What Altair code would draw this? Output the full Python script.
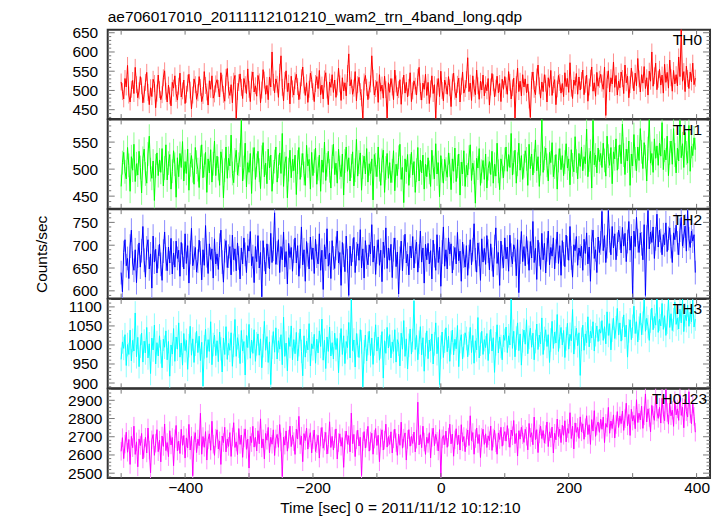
import math
import altair as alt
import pandas as pd

# ---------------- data ----------------
TIMES = list(range(-500, 400, 2))  # bin start times [sec], 2 s bins

TH0 = [
    522, 497, 478, 531, 509, 565, 488, 470, 503, 526, 492, 560, 515, 481, 499,
    536, 512, 468, 490, 521, 547, 495, 463, 507, 484, 529, 518, 455, 493, 540,
    502, 476, 489, 533, 551, 498, 470, 514, 486, 460, 521, 506, 538, 492, 475,
    511, 545, 483, 499, 527, 466, 490, 519, 542, 501, 452, 488, 530, 515, 477,
    494, 536, 508, 471, 487, 549, 513, 496, 462, 525, 503, 538, 480, 491, 517,
    528, 505, 483, 546, 519, 490, 472, 534, 557, 501, 487, 515, 468, 524, 539,
    425, 497, 520, 543, 508, 479, 531, 515, 492, 556, 503, 471, 527, 548, 496,
    512, 485, 539, 522, 468, 501, 554, 527, 490, 513, 476, 535, 509, 600, 521,
    494, 530, 516, 482, 547, 590, 508, 473, 526, 551, 497, 519, 465, 537, 504,
    488, 525, 542, 510, 476, 499, 533, 561, 514, 487, 520, 469, 503, 545, 528,
    497, 471, 518, 536, 505, 552, 489, 514, 478, 530, 546, 501, 463, 522, 508,
    541, 495, 527, 482, 509, 558, 517, 474, 533, 499, 520, 486, 544, 595, 512,
    528, 490, 506, 549, 473, 515, 534, 497, 481, 425, 522, 539, 508, 476, 501,
    517, 590, 532, 488, 505, 523, 469, 541, 498, 514, 480, 537, 502, 428, 520,
    495, 531, 509, 476, 553, 517, 486, 502, 528, 464, 512, 540, 493, 521, 483,
    508, 546, 471, 499, 525, 511, 488, 534, 560, 497, 475, 519, 503, 542, 487,
    521, 466, 504, 538, 492, 515, 425, 509, 531, 484, 550, 500, 473, 527, 513,
    490, 536, 507, 458, 522, 545, 498, 481, 516, 532, 470, 511, 548, 493, 505,
    528, 585, 497, 519, 474, 538, 506, 489, 553, 512, 477, 524, 501, 540, 486,
    515, 499, 531, 462, 509, 544, 520, 483, 506, 537, 494, 518, 471, 529, 503,
    536, 512, 490, 549, 521, 478, 507, 532, 428, 515, 558, 497, 524, 486, 541,
    509, 530, 494, 517, 475, 430, 526, 548, 503, 489, 535, 566, 512, 480, 522,
    497, 541, 519, 470, 533, 508, 552, 487, 515, 528, 463, 504, 539, 521, 493,
    518, 484, 546, 510, 531, 495, 572, 506, 479, 527, 513, 544, 490, 535, 501,
    526, 553, 489, 516, 540, 472, 509, 532, 561, 498, 520, 485, 547, 511, 529,
    542, 519, 503, 561, 435, 528, 551, 496, 533, 517, 574, 508, 539, 488, 524,
    507, 548, 531, 492, 566, 520, 537, 481, 515, 558, 527, 499, 545, 512, 583,
    530, 496, 541, 519, 562, 505, 533, 488, 550, 524, 600, 511, 538, 571, 502,
    529, 555, 514, 540, 493, 568, 521, 547, 506, 579, 533, 498, 552, 517, 541,
    512, 587, 536, 660, 524, 549, 497, 563, 531, 505, 548, 522, 571, 515, 532,
]

TH1 = [
    468, 512, 531, 495, 482, 540, 507, 459, 523, 498, 546, 477, 510, 489, 533,
    503, 456, 520, 537, 491, 474, 528, 561, 499, 483, 515, 442, 506, 530, 488,
    517, 494, 538, 469, 502, 545, 480, 511, 527, 463, 496, 534, 509, 448, 521,
    486, 529, 503, 551, 478, 514, 492, 537, 461, 508, 525, 497, 472, 540, 513,
    499, 466, 522, 545, 484, 507, 531, 457, 519, 493, 536, 476, 510, 552, 488,
    524, 501, 470, 532, 515, 447, 498, 541, 483, 520, 506, 563, 492, 475, 517,
    535, 489, 509, 526, 590, 478, 503, 548, 467, 512, 494, 529, 455, 518, 540,
    481, 507, 533, 498, 464, 522, 549, 486, 511, 473, 537, 502, 526, 459, 495,
    514, 541, 476, 505, 530, 492, 566, 468, 510, 523, 447, 499, 535, 484, 518,
    497, 526, 453, 513, 540, 481, 507, 529, 492, 470, 544, 506, 518, 463, 531,
    488, 515, 539, 472, 501, 526, 459, 517, 494, 550, 479, 508, 533, 497, 465,
    523, 546, 490, 511, 474, 537, 503, 486, 528, 452, 515, 541, 496, 521, 478,
    506, 532, 469, 498, 555, 487, 513, 530, 461, 504, 524, 491, 538, 476, 510,
    492, 519, 443, 527, 508, 486, 541, 499, 470, 516, 535, 457, 502, 529, 483,
    512, 475, 497, 534, 460, 509, 488, 522, 546, 481, 503, 438, 519, 495, 527,
    470, 506, 531, 489, 514, 457, 498, 540, 478, 517, 493, 526, 463, 509, 486,
    521, 494, 468, 535, 503, 482, 547, 491, 512, 449, 525, 497, 474, 518, 500,
    485, 530, 508, 462, 519, 496, 539, 477, 505, 528, 452, 513, 491, 534, 468,
    507, 489, 522, 545, 479, 511, 494, 437, 520, 502, 538, 470, 496, 516, 481,
    528, 465, 501, 514, 490, 533, 474, 509, 487, 548, 496, 462, 519, 505, 484,
    518, 541, 496, 527, 503, 566, 489, 512, 535, 474, 509, 548, 498, 525, 481,
    506, 534, 519, 470, 546, 501, 528, 489, 515, 554, 497, 523, 468, 510, 592,
    494, 520, 539, 507, 478, 531, 512, 549, 486, 504, 527, 463, 516, 538, 499,
    525, 488, 513, 547, 502, 519, 471, 536, 508, 495, 560, 515, 482, 529, 505,
    541, 497, 523, 510, 574, 486, 517, 533, 465, 590, 508, 526, 493, 539, 514,
    529, 503, 548, 516, 487, 561, 524, 507, 540, 473, 532, 519, 556, 498, 522,
    545, 510, 583, 526, 490, 537, 515, 552, 470, 528, 506, 564, 519, 497, 541,
    516, 575, 532, 501, 549, 523, 478, 538, 592, 511, 529, 494, 556, 520, 543,
    507, 548, 524, 586, 499, 535, 517, 561, 488, 530, 552, 509, 575, 526, 493,
    539, 515, 590, 521, 547, 503, 568, 530, 511, 581, 496, 542, 525, 558, 536,
]

TH2 = [
    640, 598, 684, 712, 655, 671, 627, 698, 733, 661, 645, 690, 618, 676, 705,
    652, 688, 741, 667, 630, 694, 712, 648, 681, 606, 720, 663, 691, 639, 675,
    702, 658, 623, 687, 729, 670, 644, 696, 661, 715, 637, 683, 652, 709, 671,
    689, 632, 706, 678, 648, 725, 660, 699, 617, 684, 737, 655, 672, 695, 641,
    665, 711, 683, 624, 690, 656, 743, 677, 638, 703, 669, 692, 628, 714, 659,
    681, 647, 700, 733, 663, 619, 688, 710, 651, 676, 697, 635, 722, 668, 692,
    644, 705, 672, 626, 694, 659, 716, 680, 640, 699, 687, 730, 655, 675, 618,
    697, 664, 721, 650, 684, 587, 710, 669, 637, 703, 676, 648, 726, 662, 691,
    771, 658, 683, 712, 640, 697, 668, 729, 652, 686, 615, 704, 673, 695, 643,
    687, 716, 661, 699, 632, 675, 740, 657, 690, 621, 708, 679, 648, 718, 669,
    694, 638, 713, 676, 659, 725, 645, 689, 603, 701, 670, 736, 654, 683, 627,
    710, 672, 649, 693, 731, 661, 684, 612, 706, 678, 642, 720, 666, 590, 698,
    655, 689, 717, 640, 681, 703, 667, 734, 650, 692, 628, 710, 674, 657, 701,
    681, 745, 663, 698, 636, 685, 712, 656, 689, 620, 707, 673, 738, 649, 694,
    667, 702, 629, 690, 716, 653, 685, 593, 671, 709, 644, 696, 724, 661, 680,
    635, 698, 672, 719, 650, 686, 707, 641, 676, 731, 663, 694, 617, 702, 668,
    704, 659, 688, 626, 711, 677, 645, 723, 662, 696, 610, 685, 740, 654, 690,
    648, 716, 681, 703, 639, 672, 695, 659, 728, 666, 687, 621, 707, 676, 652,
    699, 634, 675, 712, 657, 690, 747, 668, 641, 705, 680, 623, 714, 663, 693,
    658, 721, 687, 646, 703, 669, 631, 697, 738, 660, 684, 612, 709, 675, 650,
    716, 670, 696, 643, 722, 678, 659, 701, 690, 633, 712, 596, 685, 730, 664,
    697, 655, 719, 684, 645, 708, 672, 752, 662, 693, 625, 711, 680, 647, 726,
    668, 704, 639, 690, 731, 657, 695, 676, 716, 648, 687, 729, 660, 699, 634,
    710, 681, 653, 722, 694, 667, 741, 672, 630, 701, 688, 719, 656, 694, 676,
    698, 645, 713, 682, 727, 659, 696, 621, 708, 733, 671, 690, 640, 718, 684,
    705, 774, 688, 721, 662, 697, 776, 710, 679, 741, 694, 725, 668, 702, 733,
    716, 683, 739, 698, 726, 664, 708, 752, 689, 720, 585, 731, 697, 761, 710,
    684, 727, 703, 668, 745, 590, 718, 776, 692, 729, 706, 740, 671, 714, 768,
    696, 733, 710, 679, 723, 701, 749, 686, 715, 738, 697, 662, 727, 712, 744,
    705, 679, 733, 761, 698, 720, 742, 687, 776, 714, 695, 731, 709, 723, 640,
]

TH3 = [
    962, 1008, 991, 1027, 946, 1001, 975, 1039, 958, 1012, 984, 1084, 969, 1020, 943,
    997, 1031, 955, 1010, 979, 1046, 966, 1003, 925, 1018, 987, 1052, 950, 1006, 971,
    1024, 982, 940, 1015, 994, 1037, 961, 1009, 918, 1000, 976, 1043, 957, 1021, 989,
    1058, 968, 1005, 947, 1030, 985, 1012, 936, 998, 1049, 973, 1016, 954, 1002, 1036,
    980, 1023, 959, 1007, 892, 995, 1041, 967, 1014, 983, 1061, 948, 1001, 1026, 972,
    1011, 956, 1034, 990, 929, 1018, 975, 1048, 962, 1004, 986, 1032, 944, 999, 1067,
    970, 1019, 997, 951, 1038, 984, 1009, 921, 1025, 993, 1054, 965, 1013, 978, 1040,
    957, 1003, 1029, 973, 1016, 940, 998, 1062, 986, 1022, 954, 1008, 896, 994, 1035,
    981, 1045, 963, 1011, 989, 1027, 948, 1073, 970, 1005, 932, 1019, 996, 1050, 961,
    1014, 977, 1033, 958, 1001, 1042, 983, 919, 1024, 968, 1010, 987, 1056, 945, 1003,
    990, 1028, 952, 1015, 979, 1037, 996, 1068, 960, 1012, 938, 1021, 983, 1047, 971,
    1006, 963, 1031, 988, 1017, 927, 1000, 1043, 975, 1024, 951, 1009, 993, 1059, 966,
    1121, 985, 1013, 942, 1030, 999, 967, 1040, 1008, 890, 982, 1026, 958, 1004, 1036,
    972, 1018, 949, 1003, 1053, 984, 1021, 960, 995, 1035, 913, 1011, 978, 1046, 992,
    1027, 966, 1008, 983, 1040, 955, 1014, 1002, 945, 1031, 989, 1064, 970, 1016, 937,
    999, 1042, 976, 1012, 1116, 988, 1025, 961, 1007, 1048, 974, 1019, 931, 1001, 1037,
    964, 1013, 985, 1029, 950, 1003, 1058, 977, 1020, 896, 994, 1034, 967, 1010, 1045,
    982, 1023, 957, 1006, 1039, 974, 1015, 990, 1051, 943, 1009, 1027, 963, 998, 1032,
    1017, 969, 1004, 1046, 980, 1025, 952, 1011, 987, 1072, 966, 1002, 1036, 975, 1014,
    993, 1030, 959, 1008, 1041, 984, 1019, 928, 1003, 1053, 979, 1021, 996, 961, 1026,
    1012, 1047, 980, 1024, 1000, 1121, 991, 1036, 969, 1018, 1058, 985, 1029, 947, 1011,
    1039, 1002, 1066, 977, 1020, 1044, 994, 1031, 961, 1009, 1055, 988, 1026, 1003, 1071,
    975, 1017, 1040, 996, 1027, 954, 1013, 1062, 991, 1034, 1005, 1080, 983, 1022, 1046,
    1000, 1038, 967, 1016, 1057, 989, 1028, 1011, 1093, 976, 1019, 1044, 998, 1032, 920,
    1015, 1052, 986, 1029, 1006, 1074, 995, 1036, 1018, 1061, 984, 1027, 1050, 1009, 1041,
    1031, 1064, 1012, 1048, 1003, 1087, 1025, 1056, 987, 1039, 1070, 1017, 1045, 1096, 1026,
    1058, 1010, 1043, 1079, 1021, 1052, 968, 1037, 1066, 1014, 1049, 1102, 1030, 1061, 1008,
    1044, 1083, 1027, 1057, 1119, 1036, 1070, 1048, 1012, 1063, 1097, 1040, 1075, 1052, 1121,
    1033, 1068, 1050, 1109, 1041, 1077, 1025, 1060, 1121, 1046, 1082, 1038, 1066, 1113, 1054,
    1071, 1042, 1094, 1058, 1121, 1035, 1079, 1064, 1105, 1049, 1086, 1061, 1118, 1047, 1068,
]

TH0123 = [
    2620, 2695, 2580, 2660, 2725, 2615, 2685, 2548, 2702, 2640, 2758, 2603, 2672, 2535, 2688,
    2652, 2718, 2578, 2636, 2697, 2611, 2748, 2627, 2502, 2683, 2712, 2598, 2665, 2739, 2618,
    2681, 2562, 2704, 2647, 2770, 2624, 2668, 2591, 2733, 2655, 2696, 2541, 2689, 2762, 2622,
    2676, 2608, 2741, 2653, 2707, 2583, 2694, 2638, 2768, 2627, 2702, 2486, 2677, 2722, 2613,
    2687, 2651, 2829, 2604, 2701, 2642, 2728, 2572, 2683, 2716, 2626, 2785, 2659, 2598, 2692,
    2738, 2633, 2677, 2548, 2704, 2668, 2752, 2617, 2688, 2647, 2723, 2592, 2698, 2777, 2641,
    2672, 2602, 2745, 2658, 2709, 2587, 2693, 2743, 2631, 2687, 2528, 2702, 2668, 2757, 2643,
    2697, 2622, 2733, 2661, 2798, 2639, 2688, 2578, 2718, 2681, 2751, 2612, 2697, 2659, 2738,
    2597, 2688, 2713, 2642, 2767, 2671, 2482, 2698, 2654, 2732, 2621, 2687, 2758, 2646, 2708,
    2673, 2603, 2742, 2688, 2812, 2657, 2703, 2563, 2717, 2679, 2747, 2632, 2693, 2722, 2611,
    2684, 2737, 2619, 2662, 2708, 2583, 2699, 2751, 2637, 2676, 2724, 2605, 2657, 2782, 2641,
    2702, 2627, 2689, 2743, 2578, 2668, 2716, 2648, 2695, 2532, 2681, 2731, 2659, 2706, 2617,
    2830, 2662, 2713, 2591, 2684, 2736, 2649, 2697, 2487, 2673, 2728, 2638, 2691, 2757, 2621,
    2676, 2719, 2604, 2687, 2745, 2652, 2708, 2563, 2694, 2738, 2627, 2681, 2769, 2643, 2701,
    2658, 2727, 2611, 2689, 2742, 2668, 2598, 2714, 2653, 2780, 2637, 2692, 2721, 2572, 2685,
    2739, 2648, 2702, 2663, 2726, 2617, 2687, 2890, 2655, 2711, 2640, 2758, 2671, 2603, 2697,
    2664, 2722, 2584, 2696, 2747, 2651, 2713, 2675, 2622, 2739, 2480, 2688, 2706, 2657, 2731,
    2642, 2698, 2769, 2661, 2715, 2593, 2683, 2744, 2656, 2709, 2627, 2766, 2672, 2701, 2618,
    2694, 2737, 2652, 2815, 2679, 2723, 2604, 2690, 2748, 2663, 2712, 2586, 2697, 2741, 2658,
    2716, 2641, 2705, 2678, 2759, 2625, 2693, 2736, 2667, 2604, 2721, 2685, 2752, 2648, 2703,
    2728, 2676, 2761, 2694, 2642, 2737, 2705, 2789, 2662, 2718, 2594, 2733, 2687, 2752, 2711,
    2669, 2741, 2703, 2628, 2773, 2697, 2722, 2656, 2808, 2684, 2739, 2613, 2716, 2758, 2690,
    2734, 2665, 2712, 2781, 2646, 2727, 2694, 2753, 2611, 2719, 2683, 2797, 2701, 2742, 2668,
    2763, 2708, 2788, 2672, 2745, 2719, 2832, 2690, 2758, 2633, 2776, 2724, 2751, 2691, 2809,
    2727, 2771, 2686, 2749, 2815, 2712, 2766, 2658, 2794, 2731, 2843, 2702, 2759, 2781, 2724,
    2796, 2741, 2808, 2668, 2773, 2752, 2861, 2719, 2786, 2745, 2820, 2693, 2767, 2838, 2751,
    2814, 2772, 2841, 2735, 2799, 2884, 2760, 2822, 2707, 2851, 2786, 2817, 2744, 2903, 2778,
    2829, 2792, 2868, 2746, 2815, 2935, 2781, 2853, 2806, 2727, 2872, 2818, 2790, 2925, 2836,
    2801, 2862, 2775, 2911, 2824, 2788, 2958, 2833, 2769, 2882, 2815, 2846, 2757, 2898, 2820,
    2853, 2790, 2931, 2817, 2862, 2749, 2905, 2838, 2808, 2947, 2826, 2771, 2880, 2812, 2725,
]

PANELS = ["TH0", "TH1", "TH2", "TH3", "TH0123"]
SERIES = [TH0, TH1, TH2, TH3, TH0123]
ERRORS = [22, 22, 26, 31, 51]
Y_DOMAINS = [[425.5, 658], [426.5, 592], [583, 779], [886, 1121], [2473, 2964]]
Y_LABELS = [
    [450, 500, 550, 600, 650],
    [450, 500, 550],
    [600, 650, 700, 750],
    [900, 950, 1000, 1050, 1100],
    [2500, 2600, 2700, 2800, 2900],
]
Y_MINOR_STEP = [10, 10, 10, 10, 20]
X_DOMAIN = [-521, 421]
X_TICKS = [-500, -400, -300, -200, -100, 0, 100, 200, 300, 400]
X_LABELS = [-400, -200, 0, 200, 400]

TITLE = "ae706017010_20111112101210_wam2_trn_4band_long.qdp"
X_TITLE = "Time [sec] 0 = 2011/11/12 10:12:10"
Y_TITLE = "Counts/sec"

# ---------------- styles ----------------
COLORS = ["#ff0000", "#00ff00", "#0000ff", "#00ffff", "#ff00ff"]
ERR_COLORS = ["#ff8a8a", "#8aff8a", "#8a8aff", "#8affff", "#ff8aff"]
LABEL_RIGHT = [8, 8, 8, 8, 3]
FONT = "Liberation Sans"
FS = 15.5
W = 604
H = 89.7
TICK_COLOR = "#777777"


def make_panel(k):
    xs = alt.Scale(domain=X_DOMAIN, nice=False, zero=False)
    ys = alt.Scale(domain=Y_DOMAINS[k], nice=False, zero=False)
    yaxis = alt.Axis(
        values=Y_LABELS[k], ticks=False, tickSize=0, domain=False, grid=False,
        labelAlign="center", labelPadding=23, labelFontSize=FS, labelFont=FONT,
        labelColor="black", format="d",
        title=Y_TITLE if k == 2 else "",
        titleFont=FONT, titleFontSize=FS, titleFontWeight="normal", titleColor="black",
        titleX=-66, titleY=H / 2, titleAngle=270, titleBaseline="middle", titleAlign="center",
    )
    if k == 4:
        xaxis = alt.Axis(
            values=X_LABELS, ticks=False, tickSize=0, domain=False, grid=False,
            labelPadding=2, labelFontSize=FS, labelFont=FONT, labelColor="black",
            labelFlush=False, format="d",
            title=X_TITLE, titleFont=FONT, titleFontSize=FS, titleFontWeight="normal",
            titleColor="black", titleX=293, titleY=35, titleBaseline="alphabetic",
            titleAlign="center",
        )
    else:
        xaxis = None

    err = ERRORS[k]
    df = pd.DataFrame({"t": TIMES, "v": SERIES[k]})
    df["lo"] = df["v"] - err
    df["hi"] = df["v"] + err

    X = alt.X("t:Q", scale=xs, axis=xaxis)

    bars = alt.Chart(df).mark_rule(color=ERR_COLORS[k], strokeWidth=1, clip=True).encode(
        x=X, y=alt.Y("lo:Q", scale=ys, axis=yaxis), y2="hi:Q"
    )
    line = alt.Chart(df).mark_line(color=COLORS[k], strokeWidth=1, clip=True).encode(
        x=X, y=alt.Y("v:Q", scale=ys, axis=yaxis)
    )

    lo, hi = Y_DOMAINS[k]
    step = Y_MINOR_STEP[k]
    start = int(math.ceil(lo / step) * step)
    minor = [v for v in range(start, int(hi) + 1, step) if v not in Y_LABELS[k]]
    major_df = pd.DataFrame({"v": Y_LABELS[k]})
    minor_df = pd.DataFrame({"v": minor})
    xt_df = pd.DataFrame({"t": X_TICKS})
    Yt = alt.Y("v:Q", scale=ys, axis=yaxis)

    def yrule(d, x1, x2):
        return alt.Chart(d).mark_rule(color=TICK_COLOR, strokeWidth=1, clip=True).encode(
            y=Yt, x=alt.value(x1), x2=alt.value(x2)
        )

    def xrule(y1, y2):
        return alt.Chart(xt_df).mark_rule(color=TICK_COLOR, strokeWidth=1, clip=True).encode(
            x=X, y=alt.value(y1), y2=alt.value(y2)
        )

    ticks = [
        yrule(major_df, 0, 7), yrule(major_df, W, W - 7),
        yrule(minor_df, 0, 3.5), yrule(minor_df, W, W - 3.5),
        xrule(0, 5), xrule(H, H - 5),
    ]

    label = alt.Chart(pd.DataFrame({"name": [PANELS[k]]})).mark_text(
        align="right", baseline="alphabetic", font=FONT, fontSize=FS, color="black"
    ).encode(x=alt.value(W - LABEL_RIGHT[k]), y=alt.value(15.6), text="name:N")

    layer = alt.layer(bars, line, *ticks, label).properties(width=W, height=H)
    if k == 0:
        layer = layer.properties(
            title=alt.TitleParams(
                text=TITLE, anchor="start", frame="group", font=FONT, fontSize=FS,
                fontWeight="normal", color="black", offset=0,
            )
        )
    return layer


chart = alt.vconcat(*[make_panel(k) for k in range(5)], spacing=0, bounds="flush").properties(
    padding={"left": 25, "top": 0, "right": 5, "bottom": 0}
).configure_view(stroke="#333333", strokeWidth=2)

chart.save("out.html", embed_options={"renderer": "svg", "actions": False})
